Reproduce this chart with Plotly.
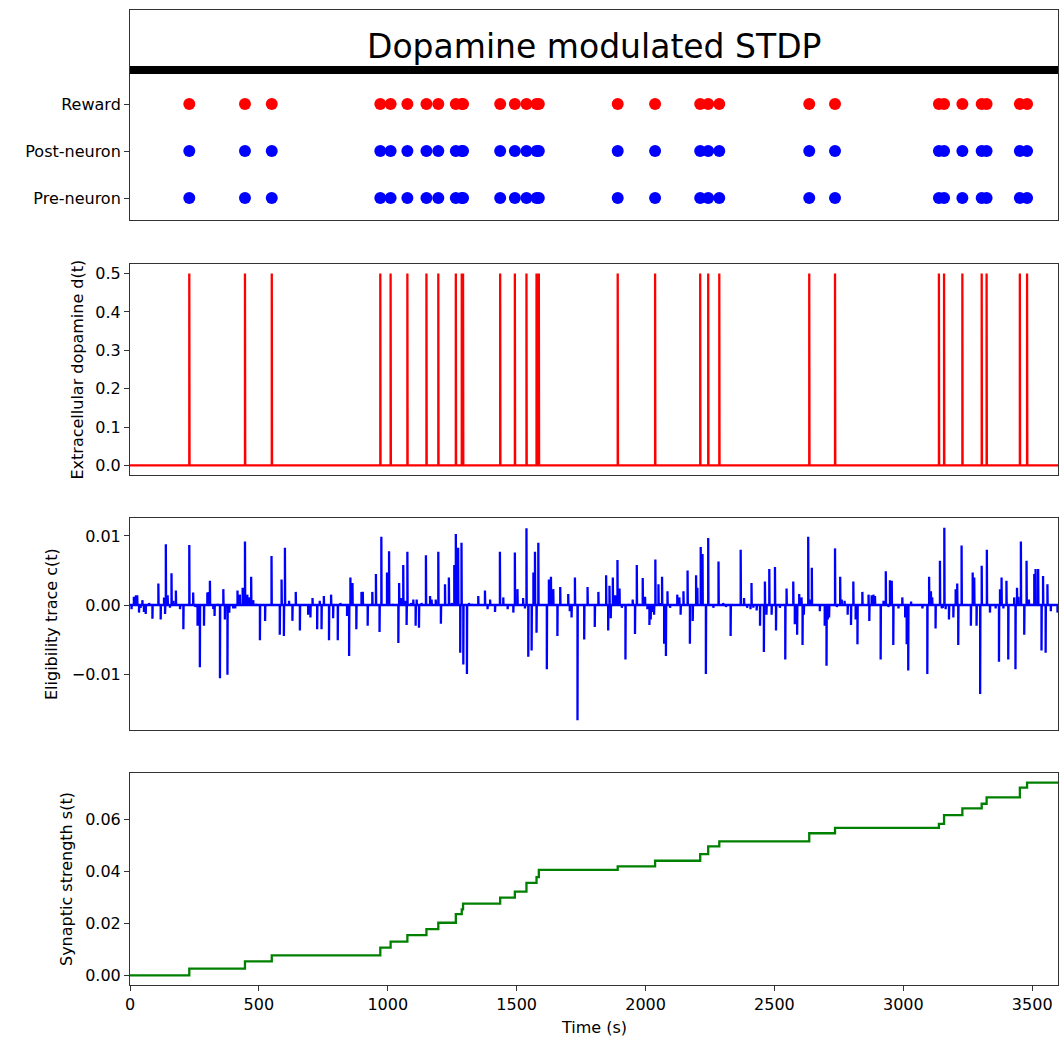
import plotly.graph_objects as go

# ---------------- data ----------------
reward_times = [230, 446, 550, 971, 1011, 1076, 1150, 1196, 1264, 1287, 1292,
                1436, 1493, 1538, 1577, 1586, 1892, 2037, 2212, 2243, 2286,
                2635, 2735, 3138, 3158, 3229, 3304, 3323, 3452, 3480]
post_spike_times = [230, 446, 550, 971, 1011, 1076, 1150, 1196, 1264, 1287, 1292,
                    1436, 1493, 1538, 1577, 1586, 1892, 2037, 2212, 2243, 2286,
                    2635, 2735, 3138, 3158, 3229, 3304, 3323, 3452, 3480]
pre_spike_times = [230, 446, 550, 971, 1011, 1076, 1150, 1196, 1264, 1287, 1292,
                   1436, 1493, 1538, 1577, 1586, 1892, 2037, 2212, 2243, 2286,
                   2635, 2735, 3138, 3158, 3229, 3304, 3323, 3452, 3480]
raster_rows = ["Pre-neuron", "Post-neuron", "Reward"]

dopamine_peak = 0.5

# synaptic strength level after each reward (starts at 0)
strength_start = 0.0
strength_levels = [0.00258, 0.00542, 0.00774, 0.01071, 0.01303, 0.01548, 0.01781,
                   0.02026, 0.02361, 0.02542, 0.02761, 0.02994, 0.03226, 0.03561,
                   0.03781, 0.04065, 0.04194, 0.04413, 0.04671, 0.04968, 0.05161,
                   0.05471, 0.05677, 0.05832, 0.06168, 0.06426, 0.06606, 0.06852,
                   0.07226, 0.07419]

# eligibility trace jumps: time (s) and value (x 1e-3)
elig_times = [
    6, 15, 23, 28, 35, 41, 48, 54, 61, 74, 87, 110, 119, 132, 136, 139, 146, 155, 161, 168,
    178, 194, 207, 217, 230, 245, 253, 262, 271, 287, 300, 305, 310, 323, 328, 338, 349, 362,
    368, 378, 385, 400, 408, 417, 426, 437, 446, 455, 461, 470, 478, 488, 504, 524, 549, 581,
    588, 597, 601, 617, 630, 643, 659, 691, 700, 708, 726, 736, 743, 752, 772, 780, 788, 806,
    816, 842, 850, 855, 863, 878, 898,
    903, 922, 940, 954, 968, 975, 997, 1005, 1018, 1041, 1044, 1051, 1060, 1067, 1073, 1076,
    1090, 1099, 1108, 1112, 1121, 1131, 1148, 1164, 1170, 1186, 1196, 1206, 1222, 1237, 1248,
    1258, 1264, 1273, 1281, 1286, 1293, 1307, 1315, 1325, 1351, 1377, 1387, 1397, 1416, 1435,
    1448, 1465, 1487, 1493, 1503, 1525, 1532, 1538, 1545, 1558, 1565, 1571, 1577, 1584, 1617,
    1625, 1633, 1642, 1658, 1669, 1700, 1706, 1713, 1726, 1736, 1762, 1775, 1803,
    1817, 1847, 1855, 1860, 1865, 1873, 1882, 1891, 1899, 1908, 1922, 1933, 1950, 1959, 1966,
    1976, 1989, 1998, 2007, 2015, 2020, 2025, 2033, 2038, 2050, 2056, 2064, 2072, 2079, 2085,
    2095, 2108, 2123, 2131, 2136, 2147, 2163, 2172, 2183, 2196, 2201, 2214, 2221, 2234, 2243,
    2263, 2283, 2301, 2312, 2330, 2369, 2382, 2394, 2407, 2411, 2418, 2431, 2444, 2459, 2463,
    2469, 2480, 2489, 2502, 2506, 2521, 2542, 2547, 2573, 2579, 2588, 2596, 2605, 2609, 2614,
    2631, 2637, 2645, 2657, 2676, 2695, 2702,
    2707, 2712, 2735, 2742, 2755, 2761, 2772, 2784, 2797, 2806, 2815, 2822, 2841, 2854, 2865,
    2868, 2877, 2884, 2890, 2901, 2912, 2923, 2932, 2942, 2948, 2955, 2961, 2968, 2981, 2996,
    3007, 3013, 3019, 3030, 3045, 3074, 3087, 3093, 3100, 3107, 3112, 3125, 3142, 3149, 3153,
    3159, 3164, 3177, 3194, 3203, 3209, 3213, 3226, 3252, 3262, 3269, 3275, 3284, 3298, 3304,
    3324, 3336, 3358, 3371, 3375, 3381, 3388, 3400, 3407, 3430, 3435, 3441, 3446, 3456, 3469,
    3478, 3487, 3497, 3508, 3513, 3523, 3536, 3542, 3552, 3559, 3572, 3598]
elig_values_milli = [
    -0.6, 1.2, 1.4, 1.4, -1.1, -0.4, 0.7, -1.0, -1.3, 0.3, -2.0, 3.1, -2.1, 1.1, -1.3, 8.8, 1.4, -0.4, 4.6, 0.6,
    2.1, -0.6, -3.5, -0.1, 8.7, 1.8, -0.3, -3.0, -9.0, -3.0, 1.8, 1.9, 3.5, -0.6, -1.6, 0.2, -10.6, 2.3,
    -2.1, -10.1, -1.1, -0.5, -0.5, 2.1, 1.5, 2.5, 9.2, 1.5, 1.1, 4.1, 0.7, 0.2, -5.1, -2.3, 7.1, -4.3,
    3.7, -4.5, 8.3, 0.6, -2.3, 1.9, -3.7, -1.4, -1.8, 1.0, -3.5, 0.6, -3.5, 1.3, -5.1, 1.5, -1.9, -5.1,
    0.3, -1.6, -7.4, 4.0, 3.2, -3.5, 1.9,
    1.9, -3.0, 1.9, 4.5, -3.9, 9.9, 4.7, 7.8, 0.2, -5.5, 3.2, 1.0, 5.8, 0.6, -2.9, 7.7,
    0.3, 0.8, -3.0, 0.8, -3.3, 0.3, 7.2, 1.3, 0.8, 0.8, 7.7, -2.7, 3.0, 4.0, 0.3,
    5.8, 10.3, 8.3, -6.9, 9.0, -8.6, -10.0, 0.3, 0.2, 1.3, 2.1, -0.6, 0.8, -1.0, 7.7,
    1.1, -0.6, -1.1, 7.6, 2.3, 1.0, -0.5, 11.1, -7.5, -6.6, 4.7, 7.7, -4.0, 9.0, -9.3,
    3.7, 4.1, 2.3, -4.5, 2.6, 1.6, -0.9, -1.8, 4.0, -16.7, -5.0, 2.6, -3.2,
    1.9, 4.3, -3.7, 2.8, -1.9, 4.0, 1.4, 6.5, 2.4, -0.4, -7.9, 0.2, 0.8, -4.2, 5.8,
    0.2, 3.9, 1.2, -0.6, -2.9, -2.1, -1.0, -1.4, 6.6, 3.0, 0.3, 4.1, -5.6, -7.4, 2.0,
    -0.4, -0.1, 1.5, 1.1, -1.4, 2.0, 5.0, -5.6, -2.3, 4.3, 2.5, 8.4, 7.4, -10.0, 9.7,
    -0.4, 6.3, 0.3, -0.3, -4.5, 8.0, 1.0, -0.4, -0.6, 3.2, -0.4, -0.8, -3.0, -6.8, 3.4,
    -1.4, 5.2, -1.4, 5.5, -3.7, -0.4, -7.9, 2.4, 3.4, -2.8, -4.3, 1.6, 1.1, -5.8, -1.4,
    9.9, 0.8, 5.4, -0.1, -0.9, -3.0, -8.8,
    -2.1, -1.8, 8.2, -0.3, 4.1, 0.8, 0.6, -1.4, -2.9, 3.4, -2.1, -5.7, 1.9, 0.1, 1.5,
    -2.3, 1.4, 1.5, 1.3, -0.1, -7.9, 0.6, 4.9, -0.3, 3.6, 3.5, -5.8, -0.1, -0.5, 1.1,
    -1.8, -5.7, -9.5, 0.5, 0.1, -0.5, 0.1, -10.0, 4.1, 2.0, 1.1, -3.4, 6.4, -0.5, -0.4,
    11.2, -0.6, -2.1, -1.8, 2.3, 3.1, -5.8, 8.6, 0.1, -3.0, 4.7, 4.0, -3.0, -12.9, 5.7,
    8.0, -1.1, -0.5, -8.2, 2.3, 4.0, -0.5, 3.5, -7.9, 1.1, -9.3, 2.5, 1.2, 9.2, -4.3,
    6.4, 0.8, 0.2, 4.5, 5.2, 5.2, -6.6, 4.2, -6.9, 3.0, -0.9, -1.1]

t_end = 3600

# --------------- build line series from events -----------------
def pulse_series(times, amps, width=1.0):
    xs, ys = [0], [0]
    for t, a in sorted(zip(times, amps)):
        xs += [t, t, t + width]
        ys += [0, a, 0]
    xs.append(t_end)
    ys.append(0)
    return xs, ys

dop_x, dop_y = pulse_series(reward_times, [dopamine_peak] * len(reward_times))
elig_x, elig_y = pulse_series(elig_times, [v * 1e-3 for v in elig_values_milli])
str_x = [0] + reward_times + [t_end]
str_y = [strength_start] + strength_levels + [strength_levels[-1]]

# ---------------- figure ----------------
FONT = "DejaVu Sans"
W, H = 1064, 1042
PT, PB = 10, 985          # plot area top/bottom px
PL, PR = 130, 1058
ph = PB - PT
pw = PR - PL

def dom(top_px, bot_px):
    return [(PB - bot_px) / ph, (PB - top_px) / ph]

def py(px):
    return (PB - px) / ph

def pxx(px):
    return (px - PL) / pw

fig = go.Figure()

fig.add_trace(go.Scatter(x=pre_spike_times, y=["Pre-neuron"] * len(pre_spike_times), mode="markers",
                         marker=dict(color="#0000ff", size=12, line=dict(width=0)),
                         xaxis="x", yaxis="y", showlegend=False))
fig.add_trace(go.Scatter(x=post_spike_times, y=["Post-neuron"] * len(post_spike_times), mode="markers",
                         marker=dict(color="#0000ff", size=12, line=dict(width=0)),
                         xaxis="x", yaxis="y", showlegend=False))
fig.add_trace(go.Scatter(x=reward_times, y=["Reward"] * len(reward_times), mode="markers",
                         marker=dict(color="#ff0000", size=12, line=dict(width=0)),
                         xaxis="x", yaxis="y", showlegend=False))

fig.add_trace(go.Scatter(x=dop_x, y=dop_y, mode="lines", line=dict(color="#ff0000", width=2.3),
                         xaxis="x2", yaxis="y2", showlegend=False))
fig.add_trace(go.Scatter(x=elig_x, y=elig_y, mode="lines", line=dict(color="#0000ff", width=2.3),
                         xaxis="x3", yaxis="y3", showlegend=False))
fig.add_trace(go.Scatter(x=str_x, y=str_y, mode="lines", line=dict(color="#008000", width=2.3, shape="hv"),
                         xaxis="x4", yaxis="y4", showlegend=False))

axc = dict(showline=True, linecolor="#333333", linewidth=1, mirror=True, showgrid=False,
           zeroline=False, ticks="outside", ticklen=5, tickwidth=1, tickcolor="#333333",
           tickfont=dict(family=FONT, size=16, color="black"))
xnone = dict(axc, ticks="", showticklabels=False)

fig.update_layout(
    width=W, height=H,
    margin=dict(l=PL, r=W - PR, t=PT, b=H - PB),
    plot_bgcolor="white", paper_bgcolor="white",
    font=dict(family=FONT, size=16, color="black"),
    xaxis=dict(xnone, domain=[0, 1], anchor="y", range=[0, t_end]),
    yaxis=dict(axc, domain=dom(10, 220), anchor="x", type="category",
               categoryorder="array", categoryarray=raster_rows, range=[-0.468, 4.0]),
    xaxis2=dict(xnone, domain=[0, 1], anchor="y2", range=[0, t_end]),
    yaxis2=dict(axc, domain=dom(264, 475), anchor="x2", range=[-0.025, 0.525],
                tickvals=[0, 0.1, 0.2, 0.3, 0.4, 0.5], tickformat=".1f"),
    xaxis3=dict(xnone, domain=[0, 1], anchor="y3", range=[0, t_end]),
    yaxis3=dict(axc, domain=dom(518, 730), anchor="x3", range=[-0.0181, 0.0126],
                tickvals=[-0.01, 0, 0.01], tickformat=".2f"),
    xaxis4=dict(axc, domain=[0, 1], anchor="y4", range=[0, t_end],
                tickvals=[0, 500, 1000, 1500, 2000, 2500, 3000, 3500]),
    yaxis4=dict(axc, domain=dom(773, 985), anchor="x4", range=[-0.0037, 0.0779],
                tickvals=[0, 0.02, 0.04, 0.06], tickformat=".2f"),
)

# thick black bar under the title inside the top panel
fig.add_shape(type="line", xref="x domain", yref="y", x0=0, x1=1, y0=2.723, y1=2.723,
              line=dict(color="black", width=8))

ann = [
    dict(text="Dopamine modulated STDP", x=0.5, y=py(47), font=dict(size=33)),
    dict(text="Extracellular dopamine d(t)", x=pxx(77), y=py(369.5), textangle=-90),
    dict(text="Eligibility trace c(t)", x=pxx(52), y=py(624), textangle=-90),
    dict(text="Synaptic strength s(t)", x=pxx(66), y=py(879), textangle=-90),
    dict(text="Time (s)", x=0.5, y=py(1027)),
]
for a in ann:
    fig.add_annotation(xref="paper", yref="paper", showarrow=False,
                       xanchor="center", yanchor="middle", **a)

fig.write_html("out.html")
